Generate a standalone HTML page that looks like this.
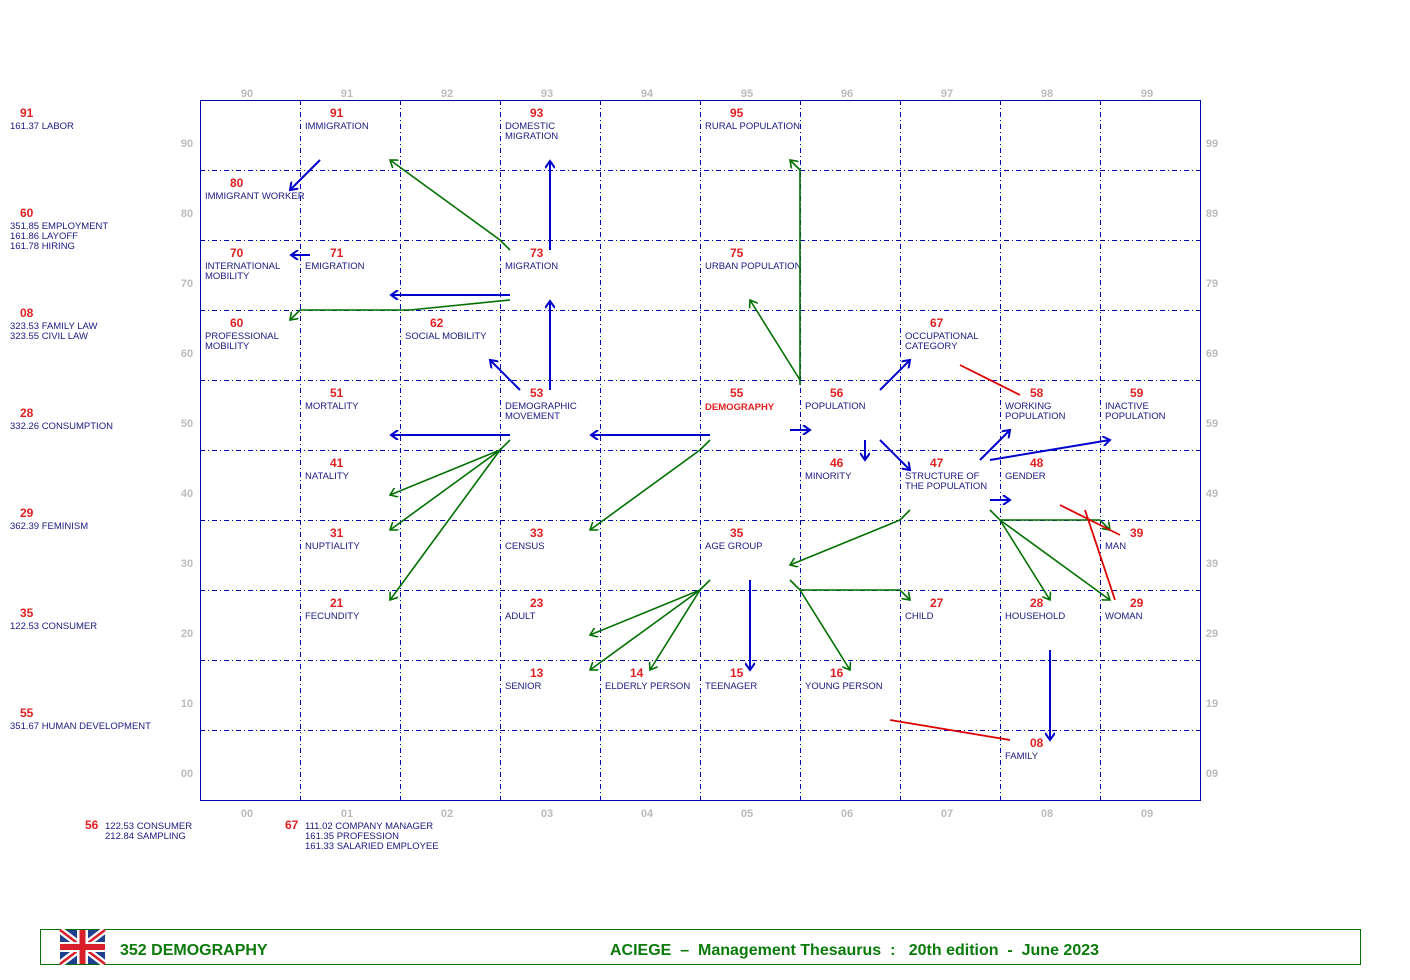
<!DOCTYPE html>
<html><head><meta charset="utf-8"><style>
body{margin:0;background:#fff;}
svg{display:block;font-family:"Liberation Sans",Arial,sans-serif;}
.n{fill:#e02020;font-weight:bold;font-size:12px;}
.l{fill:#1a1a80;font-size:9.5px;}
.ax{fill:#bbbbbb;font-weight:bold;font-size:11px;}
.b{stroke:#0000cc;stroke-width:2;fill:none;}
.g{stroke:#007000;stroke-width:1.6;fill:none;}
.r{stroke:#dd0000;stroke-width:1.8;fill:none;}
</style></head><body>
<svg width="1410" height="980" viewBox="0 0 1410 980">
<defs>
<marker id="ab" markerWidth="10" markerHeight="10" refX="8" refY="5" orient="auto" markerUnits="userSpaceOnUse"><path d="M1,0 L8,5 L1,10" fill="none" stroke="#0000cc" stroke-width="2"/></marker>
<marker id="ag" markerWidth="10" markerHeight="10" refX="8" refY="5" orient="auto" markerUnits="userSpaceOnUse"><path d="M1,0 L8,5 L1,10" fill="none" stroke="#007000" stroke-width="1.6"/></marker>
</defs>
<!-- grid -->
<rect x="200.5" y="100.5" width="1000" height="700" fill="none" stroke="#0000aa" stroke-width="1"/>
<g stroke="#0000aa" stroke-width="1" stroke-dasharray="5,3,1,3">
<line x1="300.5" y1="100" x2="300.5" y2="800"/><line x1="400.5" y1="100" x2="400.5" y2="800"/><line x1="500.5" y1="100" x2="500.5" y2="800"/><line x1="600.5" y1="100" x2="600.5" y2="800"/><line x1="700.5" y1="100" x2="700.5" y2="800"/><line x1="800.5" y1="100" x2="800.5" y2="800"/><line x1="900.5" y1="100" x2="900.5" y2="800"/><line x1="1000.5" y1="100" x2="1000.5" y2="800"/><line x1="1100.5" y1="100" x2="1100.5" y2="800"/>
<line x1="200" y1="170.5" x2="1200" y2="170.5"/><line x1="200" y1="240.5" x2="1200" y2="240.5"/><line x1="200" y1="310.5" x2="1200" y2="310.5"/><line x1="200" y1="380.5" x2="1200" y2="380.5"/><line x1="200" y1="450.5" x2="1200" y2="450.5"/><line x1="200" y1="520.5" x2="1200" y2="520.5"/><line x1="200" y1="590.5" x2="1200" y2="590.5"/><line x1="200" y1="660.5" x2="1200" y2="660.5"/><line x1="200" y1="730.5" x2="1200" y2="730.5"/>
</g>
<!-- axes -->
<g class="ax" text-anchor="middle">
<text x="247" y="97">90</text><text x="347" y="97">91</text><text x="447" y="97">92</text><text x="547" y="97">93</text><text x="647" y="97">94</text><text x="747" y="97">95</text><text x="847" y="97">96</text><text x="947" y="97">97</text><text x="1047" y="97">98</text><text x="1147" y="97">99</text>
<text x="247" y="817">00</text><text x="347" y="817">01</text><text x="447" y="817">02</text><text x="547" y="817">03</text><text x="647" y="817">04</text><text x="747" y="817">05</text><text x="847" y="817">06</text><text x="947" y="817">07</text><text x="1047" y="817">08</text><text x="1147" y="817">09</text>
<text x="187" y="147">90</text><text x="187" y="217">80</text><text x="187" y="287">70</text><text x="187" y="357">60</text><text x="187" y="427">50</text><text x="187" y="497">40</text><text x="187" y="567">30</text><text x="187" y="637">20</text><text x="187" y="707">10</text><text x="187" y="777">00</text>
<text x="1212" y="147">99</text><text x="1212" y="217">89</text><text x="1212" y="287">79</text><text x="1212" y="357">69</text><text x="1212" y="427">59</text><text x="1212" y="497">49</text><text x="1212" y="567">39</text><text x="1212" y="637">29</text><text x="1212" y="707">19</text><text x="1212" y="777">09</text>
</g>
<!-- left side -->
<text class="n" x="20" y="117">91</text><text class="l" x="10" y="129">161.37 LABOR</text>
<text class="n" x="20" y="217">60</text><text class="l" x="10" y="229">351.85 EMPLOYMENT</text><text class="l" x="10" y="239">161.86 LAYOFF</text><text class="l" x="10" y="249">161.78 HIRING</text>
<text class="n" x="20" y="317">08</text><text class="l" x="10" y="329">323.53 FAMILY LAW</text><text class="l" x="10" y="339">323.55 CIVIL LAW</text>
<text class="n" x="20" y="417">28</text><text class="l" x="10" y="429">332.26 CONSUMPTION</text>
<text class="n" x="20" y="517">29</text><text class="l" x="10" y="529">362.39 FEMINISM</text>
<text class="n" x="20" y="617">35</text><text class="l" x="10" y="629">122.53 CONSUMER</text>
<text class="n" x="20" y="717">55</text><text class="l" x="10" y="729">351.67 HUMAN DEVELOPMENT</text>
<text class="n" x="85" y="829">56</text><text class="l" x="105" y="829">122.53 CONSUMER</text><text class="l" x="105" y="839">212.84 SAMPLING</text>
<text class="n" x="285" y="829">67</text><text class="l" x="305" y="829">111.02 COMPANY MANAGER</text><text class="l" x="305" y="839">161.35 PROFESSION</text><text class="l" x="305" y="849">161.33 SALARIED EMPLOYEE</text>
<!-- nodes -->
<text class="n" x="330" y="117">91</text><text class="l" x="305" y="129">IMMIGRATION</text>
<text class="n" x="530" y="117">93</text><text class="l" x="505" y="129">DOMESTIC</text><text class="l" x="505" y="139">MIGRATION</text>
<text class="n" x="730" y="117">95</text><text class="l" x="705" y="129">RURAL POPULATION</text>
<text class="n" x="230" y="187">80</text><text class="l" x="205" y="199">IMMIGRANT WORKER</text>
<text class="n" x="230" y="257">70</text><text class="l" x="205" y="269">INTERNATIONAL</text><text class="l" x="205" y="279">MOBILITY</text>
<text class="n" x="330" y="257">71</text><text class="l" x="305" y="269">EMIGRATION</text>
<text class="n" x="530" y="257">73</text><text class="l" x="505" y="269">MIGRATION</text>
<text class="n" x="730" y="257">75</text><text class="l" x="705" y="269">URBAN POPULATION</text>
<text class="n" x="230" y="327">60</text><text class="l" x="205" y="339">PROFESSIONAL</text><text class="l" x="205" y="349">MOBILITY</text>
<text class="n" x="430" y="327">62</text><text class="l" x="405" y="339">SOCIAL MOBILITY</text>
<text class="n" x="930" y="327">67</text><text class="l" x="905" y="339">OCCUPATIONAL</text><text class="l" x="905" y="349">CATEGORY</text>
<text class="n" x="330" y="397">51</text><text class="l" x="305" y="409">MORTALITY</text>
<text class="n" x="530" y="397">53</text><text class="l" x="505" y="409">DEMOGRAPHIC</text><text class="l" x="505" y="419">MOVEMENT</text>
<text class="n" x="730" y="397">55</text><text class="n" x="705" y="410" style="font-size:9.5px">DEMOGRAPHY</text>
<text class="n" x="830" y="397">56</text><text class="l" x="805" y="409">POPULATION</text>
<text class="n" x="1030" y="397">58</text><text class="l" x="1005" y="409">WORKING</text><text class="l" x="1005" y="419">POPULATION</text>
<text class="n" x="1130" y="397">59</text><text class="l" x="1105" y="409">INACTIVE</text><text class="l" x="1105" y="419">POPULATION</text>
<text class="n" x="330" y="467">41</text><text class="l" x="305" y="479">NATALITY</text>
<text class="n" x="830" y="467">46</text><text class="l" x="805" y="479">MINORITY</text>
<text class="n" x="930" y="467">47</text><text class="l" x="905" y="479">STRUCTURE OF</text><text class="l" x="905" y="489">THE POPULATION</text>
<text class="n" x="1030" y="467">48</text><text class="l" x="1005" y="479">GENDER</text>
<text class="n" x="330" y="537">31</text><text class="l" x="305" y="549">NUPTIALITY</text>
<text class="n" x="530" y="537">33</text><text class="l" x="505" y="549">CENSUS</text>
<text class="n" x="730" y="537">35</text><text class="l" x="705" y="549">AGE GROUP</text>
<text class="n" x="1130" y="537">39</text><text class="l" x="1105" y="549">MAN</text>
<text class="n" x="330" y="607">21</text><text class="l" x="305" y="619">FECUNDITY</text>
<text class="n" x="530" y="607">23</text><text class="l" x="505" y="619">ADULT</text>
<text class="n" x="930" y="607">27</text><text class="l" x="905" y="619">CHILD</text>
<text class="n" x="1030" y="607">28</text><text class="l" x="1005" y="619">HOUSEHOLD</text>
<text class="n" x="1130" y="607">29</text><text class="l" x="1105" y="619">WOMAN</text>
<text class="n" x="530" y="677">13</text><text class="l" x="505" y="689">SENIOR</text>
<text class="n" x="630" y="677">14</text><text class="l" x="605" y="689">ELDERLY PERSON</text>
<text class="n" x="730" y="677">15</text><text class="l" x="705" y="689">TEENAGER</text>
<text class="n" x="830" y="677">16</text><text class="l" x="805" y="689">YOUNG PERSON</text>
<text class="n" x="1030" y="747">08</text><text class="l" x="1005" y="759">FAMILY</text>
<!-- blue arrows -->
<g class="b" marker-end="url(#ab)">
<line x1="320" y1="160" x2="290" y2="190"/>
<line x1="310" y1="255" x2="291" y2="255"/>
<line x1="510" y1="295" x2="391" y2="295"/>
<line x1="550" y1="250" x2="550" y2="161"/>
<line x1="550" y1="390" x2="550" y2="301"/>
<line x1="520" y1="390" x2="490" y2="360"/>
<line x1="510" y1="435" x2="391" y2="435"/>
<line x1="710" y1="435" x2="591" y2="435"/>
<line x1="790" y1="430" x2="810" y2="430"/>
<line x1="865" y1="440" x2="865" y2="460"/>
<line x1="880" y1="390" x2="910" y2="360"/>
<line x1="880" y1="440" x2="910" y2="470"/>
<line x1="980" y1="460" x2="1010" y2="430"/>
<line x1="990" y1="460" x2="1110" y2="440"/>
<line x1="990" y1="500" x2="1010" y2="500"/>
<line x1="750" y1="580" x2="750" y2="670"/>
<line x1="1050" y1="650" x2="1050" y2="740"/>
</g>
<!-- green arrows -->
<g class="g" marker-end="url(#ag)">
<polyline points="510,250 500,240 390,160"/>
<polyline points="510,300 410,310 300,310 290,320"/>
<polyline points="510,440 500,450 390,495"/>
<polyline points="500,450 390,530"/>
<polyline points="500,450 390,600"/>
<polyline points="710,440 700,450 590,530"/>
<polyline points="800,385 800,170 790,160"/>
<polyline points="800,380 750,300"/>
<polyline points="910,510 900,520 790,565"/>
<polyline points="710,580 700,590 590,635"/>
<polyline points="700,590 590,670"/>
<polyline points="700,590 650,670"/>
<polyline points="790,580 800,590 900,590 910,600"/>
<polyline points="800,590 850,670"/>
<polyline points="990,510 1000,520 1100,520 1110,530"/>
<polyline points="1000,520 1050,600"/>
<polyline points="1000,520 1110,600"/>
</g>
<!-- red lines -->
<g class="r">
<line x1="960" y1="365" x2="1020" y2="395"/>
<line x1="1060" y1="505" x2="1120" y2="535"/>
<line x1="1085" y1="510" x2="1115" y2="600"/>
<line x1="890" y1="720" x2="1010" y2="740"/>
</g>
<!-- footer -->
<rect x="40.5" y="929.5" width="1320" height="35" fill="none" stroke="#007000" stroke-width="1"/>
<g transform="translate(60,930)">
<rect width="45" height="34" fill="#1f3f8f"/>
<path d="M0,0 L45,34 M45,0 L0,34" stroke="#fff" stroke-width="7"/>
<path d="M0,0 L45,34 M45,0 L0,34" stroke="#d81f2a" stroke-width="2.5"/>
<rect x="0" y="12" width="45" height="10" fill="#fff"/><rect x="17" y="0" width="11" height="34" fill="#fff"/>
<rect x="0" y="14" width="45" height="6" fill="#d81f2a"/><rect x="19.5" y="0" width="6" height="34" fill="#d81f2a"/>
</g>
<text x="120" y="955" fill="#0a7a0a" font-weight="bold" font-size="16">352  DEMOGRAPHY</text>
<text x="610" y="955" fill="#0a7a0a" font-weight="bold" font-size="16" xml:space="preserve">ACIEGE  –  Management Thesaurus  :   20th edition  -  June 2023</text>
</svg>
</body></html>
